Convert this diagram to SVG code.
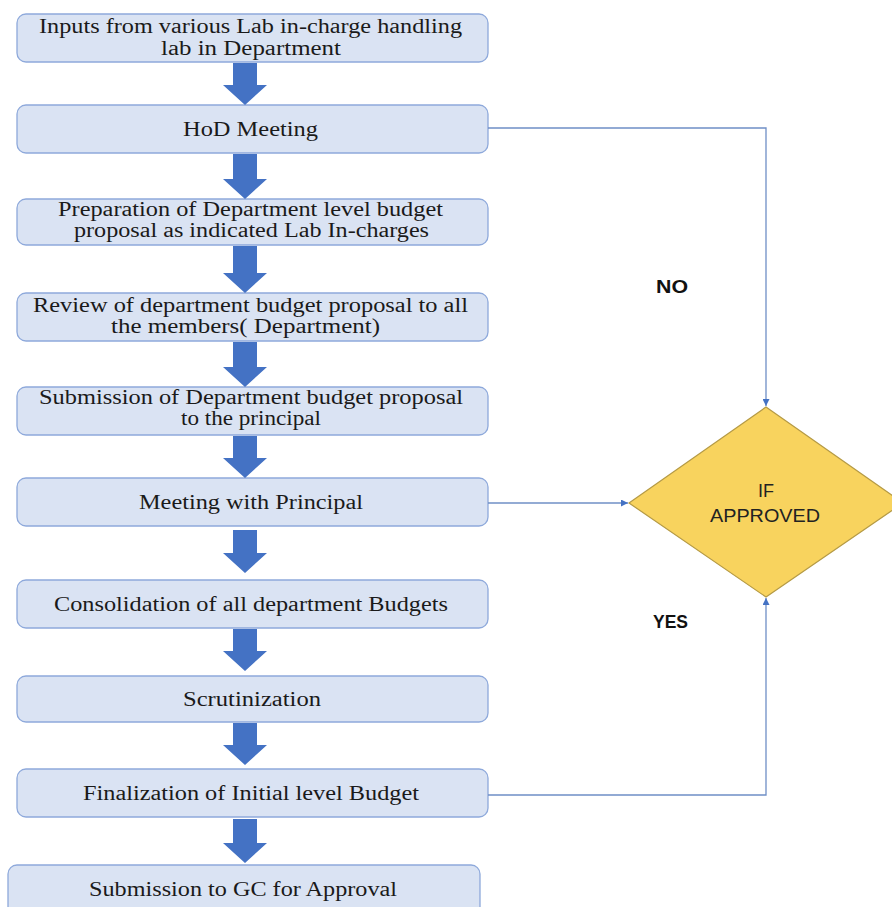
<svg xmlns="http://www.w3.org/2000/svg" width="892" height="907" viewBox="0 0 892 907">
<style>
.box{fill:#DAE3F3;stroke:#8EA9DB;stroke-width:1.3}
.t{font-family:"Liberation Serif","Times New Roman",serif;font-size:20px;fill:#1a1a1a}
.bar{fill:#4472C4}
.conn{fill:none;stroke:#6F8FC6;stroke-width:1.3}
.lbl{font-family:"Liberation Sans",Arial,sans-serif;font-size:18px;font-weight:bold;fill:#111}
.dt{font-family:"Liberation Sans",Arial,sans-serif;font-size:18px;fill:#222;text-anchor:middle}
</style>
<defs>
<marker id="ah" viewBox="0 0 10 10" refX="10" refY="5" markerWidth="7" markerHeight="7" markerUnits="userSpaceOnUse" orient="auto">
<path d="M0,0 L10,5 L0,10 z" fill="#4472C4"/>
</marker>
</defs>

<g id="n1"><rect class="box" x="17" y="14" width="471" height="48" rx="9"/>
<text class="t" x="39" y="33" textLength="423" lengthAdjust="spacingAndGlyphs">Inputs from various Lab in-charge handling</text>
<text class="t" x="161" y="55" textLength="180" lengthAdjust="spacingAndGlyphs">lab in Department</text></g>

<g id="n2"><rect class="box" x="17" y="105" width="471" height="48" rx="9"/>
<text class="t" x="183" y="136" textLength="135" lengthAdjust="spacingAndGlyphs">HoD Meeting</text></g>

<g id="n3"><rect class="box" x="17" y="199" width="471" height="46" rx="9"/>
<text class="t" x="58" y="216" textLength="385" lengthAdjust="spacingAndGlyphs">Preparation of Department level budget</text>
<text class="t" x="74" y="237" textLength="355" lengthAdjust="spacingAndGlyphs">proposal as indicated Lab In-charges</text></g>

<g id="n4"><rect class="box" x="17" y="293" width="471" height="48" rx="9"/>
<text class="t" x="33" y="312" textLength="435" lengthAdjust="spacingAndGlyphs">Review of department budget proposal to all</text>
<text class="t" x="111" y="333" textLength="269" lengthAdjust="spacingAndGlyphs">the members( Department)</text></g>

<g id="n5"><rect class="box" x="17" y="387" width="471" height="48" rx="9"/>
<text class="t" x="39" y="404" textLength="424" lengthAdjust="spacingAndGlyphs">Submission of Department budget proposal</text>
<text class="t" x="181" y="425" textLength="140" lengthAdjust="spacingAndGlyphs">to the principal</text></g>

<g id="n6"><rect class="box" x="17" y="478" width="471" height="48" rx="9"/>
<text class="t" x="139" y="509" textLength="224" lengthAdjust="spacingAndGlyphs">Meeting with Principal</text></g>

<g id="n7"><rect class="box" x="17" y="580" width="471" height="48" rx="9"/>
<text class="t" x="54" y="611" textLength="394" lengthAdjust="spacingAndGlyphs">Consolidation of all department Budgets</text></g>

<g id="n8"><rect class="box" x="17" y="676" width="471" height="46" rx="9"/>
<text class="t" x="183" y="706" textLength="138" lengthAdjust="spacingAndGlyphs">Scrutinization</text></g>

<g id="n9"><rect class="box" x="17" y="769" width="471" height="48" rx="9"/>
<text class="t" x="83" y="800" textLength="336" lengthAdjust="spacingAndGlyphs">Finalization of Initial level Budget</text></g>

<g id="n10"><rect class="box" x="8" y="865" width="472" height="52" rx="9"/>
<text class="t" x="89" y="896" textLength="308" lengthAdjust="spacingAndGlyphs">Submission to GC for Approval</text></g>

<g id="decision"><path d="M766,407 L903,503 L766,597 L629,503 z" fill="#F8D35E" stroke="#B59A45" stroke-width="1.2"/>
<text class="dt" x="766" y="497">IF</text>
<text class="dt" x="765" y="522" textLength="110" lengthAdjust="spacingAndGlyphs">APPROVED</text></g>

<g id="connectors">
<path class="bar" d="M233,63 V85 H223 L245,105 L267,85 H257 V63 z"/>
<path class="bar" d="M233,154 V179 H223 L245,199 L267,179 H257 V154 z"/>
<path class="bar" d="M233,246 V273 H223 L245,293 L267,273 H257 V246 z"/>
<path class="bar" d="M233,342 V367 H223 L245,387 L267,367 H257 V342 z"/>
<path class="bar" d="M233,436 V458 H223 L245,478 L267,458 H257 V436 z"/>
<path class="bar" d="M233,530 V553 H223 L245,573 L267,553 H257 V530 z"/>
<path class="bar" d="M233,629 V651 H223 L245,671 L267,651 H257 V629 z"/>
<path class="bar" d="M233,723 V745 H223 L245,765 L267,745 H257 V723 z"/>
<path class="bar" d="M233,819 V843 H223 L245,863 L267,843 H257 V819 z"/>
<path class="conn" d="M488,128 H766 V406" marker-end="url(#ah)"/>
<path class="conn" d="M488,503 H628" marker-end="url(#ah)"/>
<path class="conn" d="M488,795 H766 V598" marker-end="url(#ah)"/>
<text class="lbl" x="656" y="293" textLength="32" lengthAdjust="spacingAndGlyphs">NO</text>
<text class="lbl" x="653" y="628" textLength="35" lengthAdjust="spacingAndGlyphs">YES</text>
</g>
</svg>
